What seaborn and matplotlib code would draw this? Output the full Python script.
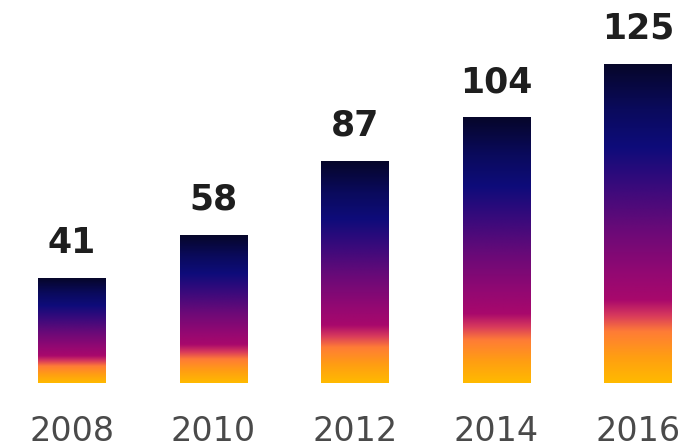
import numpy as np
import pandas as pd
import matplotlib
matplotlib.use("Agg")
import matplotlib.pyplot as plt
from matplotlib.colors import LinearSegmentedColormap
import seaborn as sns

# chart data
years = ["2008", "2010", "2012", "2014", "2016"]
values = [41, 58, 87, 104, 125]

df = pd.DataFrame({"year": years, "value": values})

sns.set_theme(style="white")
plt.rcParams["font.family"] = ["DejaVu Sans"]

# gradient running bottom (0) -> top (1) of each bar
grad_cmap = LinearSegmentedColormap.from_list("bar_grad", [
    (0.00, "#ffba00"),
    (0.08, "#ff9e12"),
    (0.16, "#ff7c36"),
    (0.21, "#d83a5c"),
    (0.26, "#a8086c"),
    (0.34, "#940872"),
    (0.48, "#6a0a78"),
    (0.62, "#380a7c"),
    (0.74, "#0e0c7a"),
    (0.86, "#0a0a5c"),
    (1.00, "#06062a"),
])

fig = plt.figure(figsize=(6.93, 4.48), dpi=100)
ax = fig.add_axes([0, 65 / 448, 1, 383 / 448])

sns.barplot(data=df, x="year", y="value", color="#333333", width=0.48, ax=ax)

gradient = np.linspace(0, 1, 256).reshape(-1, 1)
for patch, val in zip(ax.patches, values):
    x0 = patch.get_x()
    w = patch.get_width()
    patch.set_facecolor("none")
    patch.set_edgecolor("none")
    ax.imshow(gradient, extent=[x0, x0 + w, 0, val], origin="lower",
              aspect="auto", cmap=grad_cmap, zorder=2, interpolation="bicubic")
    ax.annotate(str(val), (x0 + w / 2, val), xytext=(0, 25.5),
                textcoords="offset points", ha="center", va="center",
                fontsize=25, fontweight="bold", color="#1e1e1e")

for i, yr in enumerate(years):
    ax.annotate(yr, (i, 0), xytext=(0, -35), textcoords="offset points",
                ha="center", va="center", fontsize=24, color="#4a4a4a",
                annotation_clip=False)

ax.set_xlim(-0.509, 4.389)
ax.set_ylim(0, 150.2)
ax.set_xticks([])
ax.set_yticks([])
ax.set_xlabel("")
ax.set_ylabel("")
sns.despine(ax=ax, left=True, bottom=True)

fig.savefig("out.png", dpi=100)
